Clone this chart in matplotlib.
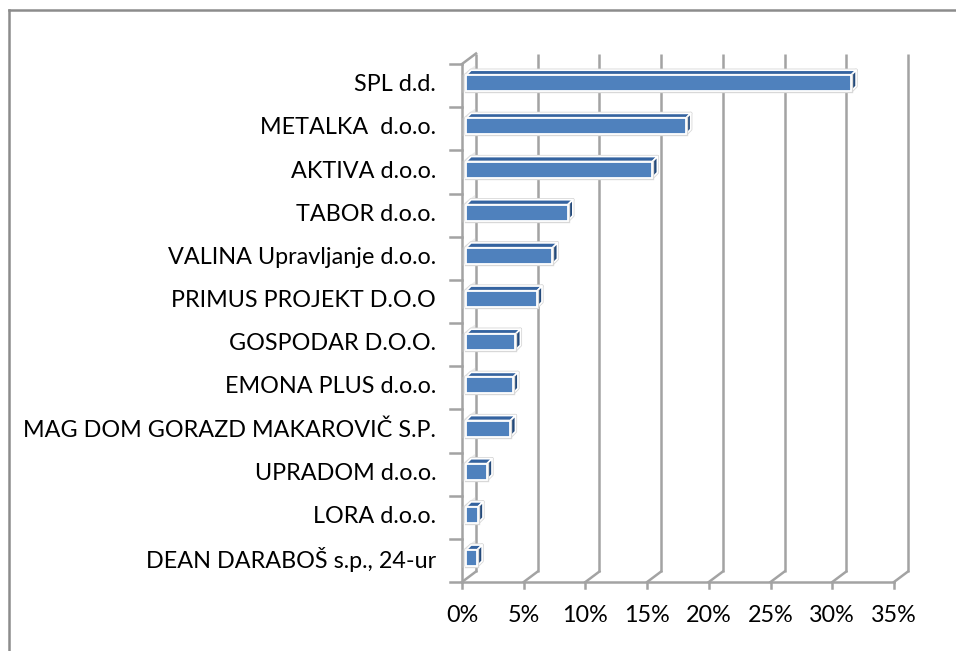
import matplotlib.pyplot as plt
from matplotlib.lines import Line2D

# data (share in %), listed top to bottom as in the chart
companies = ["SPL d.d.", "METALKA  d.o.o.", "AKTIVA d.o.o.", "TABOR d.o.o.",
             "VALINA Upravljanje d.o.o.", "PRIMUS PROJEKT D.O.O", "GOSPODAR D.O.O.",
             "EMONA PLUS d.o.o.", "MAG DOM GORAZD MAKAROVIČ S.P.", "UPRADOM d.o.o.",
             "LORA d.o.o.", "DEAN DARABOŠ s.p., 24-ur"]
shares = [31.2, 17.8, 15.1, 8.25, 7.0, 5.75, 4.0, 3.8, 3.6, 1.7, 0.97, 0.9]
xticks = [0, 5, 10, 15, 20, 25, 30, 35]
xtick_labels = [f"{t}%" for t in xticks]

# bottom-up order for plotting
names = companies[::-1]
vals = shares[::-1]
n = len(names)

W, H = 956, 651
fig = plt.figure(figsize=(W / 100, H / 100), dpi=100)
ax = fig.add_axes([0, 0, 1, 1])
ax.axis("off")

# pixel -> data mapping (front plane: 0% at x=462, 35% at x=894; floor at y=582, top at y=64)
px_per_pct = (894 - 462) / 35
px_per_cat = (582 - 64) / n
ax.set_xlim(-462 / px_per_pct, (W - 462) / px_per_pct)
ax.set_ylim((582 - H) / px_per_cat, 582 / px_per_cat)

grid_c = "#A3A3A3"
glw = 1.8
dx = 14 / px_per_pct   # wall depth
dy = 10.5 / px_per_cat

# back wall gridlines + floor diagonals
for t in xticks:
    ax.plot([t + dx, t + dx], [dy, n + dy], color=grid_c, lw=glw, solid_capstyle="butt", zorder=1)
    ax.plot([t, t + dx], [0, dy], color=grid_c, lw=glw, zorder=1)
    ax.plot([t, t], [0, -6 / px_per_cat], color=grid_c, lw=glw, zorder=1)
ax.plot([0, 35], [0, 0], color=grid_c, lw=glw, zorder=1)

# left wall
ax.plot([0, 0], [0, n], color=grid_c, lw=glw, zorder=1)
ax.plot([0, dx], [n, n + dy], color=grid_c, lw=glw, zorder=1)
for k in range(n + 1):
    ax.plot([-12 / px_per_pct, 0], [k, k], color=grid_c, lw=glw, zorder=1)

# bars (pseudo 3d)
bx0 = 4 / px_per_pct
b_lo, b_h = 0.37, 0.37
sdx = 5 / px_per_pct
sdy = 5 / px_per_cat
front_c, top_c, side_c = "#4F81BD", "#3463A0", "#23497A"
ypos = [i + b_lo for i in range(n)]
for i, v in enumerate(vals):
    y0 = ypos[i]
    y1 = y0 + b_h
    # faint shadow on left wall
    ax.fill([0, dx, dx, 0], [y0 - 0.05, y0 + dy - 0.05, y1 + dy, y1],
            color="#C8C8C8", alpha=0.35, lw=0, zorder=2)
    top = ([bx0, bx0 + v, bx0 + v + sdx, bx0 + sdx], [y1, y1, y1 + sdy, y1 + sdy])
    side = ([bx0 + v, bx0 + v + sdx, bx0 + v + sdx, bx0 + v], [y0, y0 + sdy, y1 + sdy, y1])
    for xs, ys, c in [(*top, top_c), (*side, side_c)]:
        ax.fill(xs, ys, facecolor=c, edgecolor="#D8D8D8", lw=2.4, joinstyle="round", zorder=3)
        ax.fill(xs, ys, facecolor=c, edgecolor="white", lw=1.2, joinstyle="round", zorder=4)
ax.barh(ypos, vals, left=bx0, height=b_h, align="edge",
        color=front_c, edgecolor="#D8D8D8", linewidth=2.4, zorder=5)
ax.barh(ypos, vals, left=bx0, height=b_h, align="edge",
        color=front_c, edgecolor="white", linewidth=1.3, zorder=6)

# labels
font = "Lato"
fs = 16.8
for i, name in enumerate(names):
    ax.text(-26 / px_per_pct, i + 0.52, name, ha="right", va="center",
            fontsize=fs, family=font, color="black")
for t, lab in zip(xticks, xtick_labels):
    ax.text(t, -33 / px_per_cat, lab, ha="center", va="center",
            fontsize=fs, family=font, color="black")

# outer frame (top and left visible)
fig.add_artist(Line2D([9 / W, 1], [1 - 10 / H, 1 - 10 / H], transform=fig.transFigure,
                      color="#8C8C8C", lw=1.8))
fig.add_artist(Line2D([9 / W, 9 / W], [0, 1 - 10 / H], transform=fig.transFigure,
                      color="#8C8C8C", lw=1.8))

fig.savefig("out.png", dpi=100)
